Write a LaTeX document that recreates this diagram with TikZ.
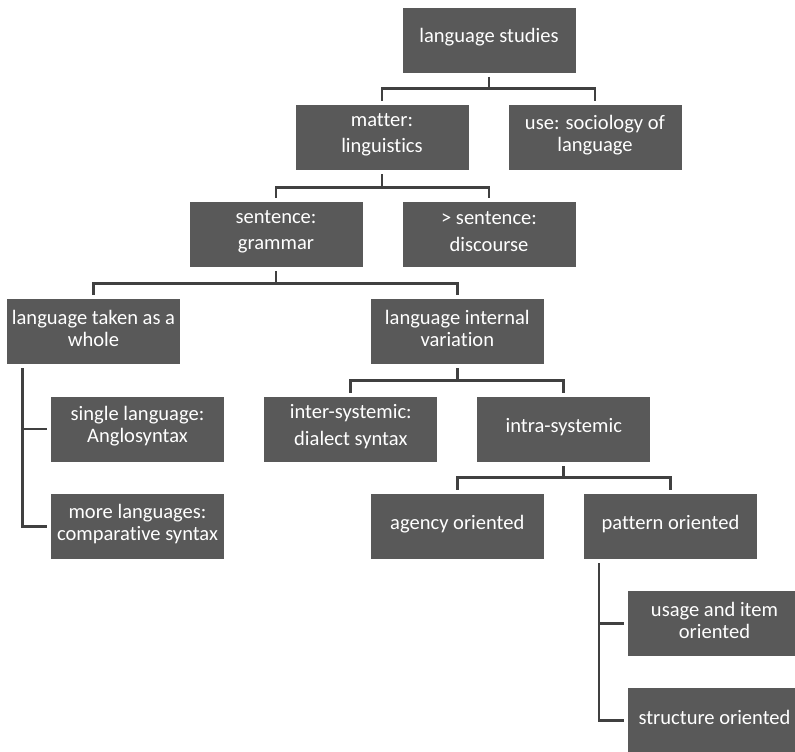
\documentclass[tikz,border=0pt]{standalone}
\usepackage{fontspec}
\setmainfont{Carlito}[Ligatures=NoCommon]
\definecolor{boxgray}{RGB}{89,89,89}
\definecolor{linegray}{RGB}{64,64,64}
\begin{document}
\begin{tikzpicture}[x=0.75pt,y=-0.75pt,
  box/.style={rectangle,fill=boxgray,minimum width=129.75pt,minimum height=48.75pt,inner sep=0pt,
    label={[txt]center:{#1}}},
  widebox/.style={box={#1},label={[txt,font=\fontsize{15.4}{20}\selectfont]center:{#1}}},
  txt/.style={text=white,align=center,inner sep=0pt,yshift=2pt,font=\fontsize{15.4}{16.5}\selectfont},
  conn/.style={draw=linegray,line width=2pt}]
\useasboundingbox (0,0) rectangle (795,751);
\node[box={language studies}] (ls) at (489,40) {};
\node[box={},label={[txt,font=\fontsize{15.4}{20}\selectfont]center:{matter:\\linguistics}}] (matter) at (382,137.5) {};
\node[box={use: sociology of\\language}] (use) at (595,137.5) {};
\node[box={},label={[txt,font=\fontsize{15.4}{20}\selectfont]center:{sentence:\\grammar}}] (sent) at (276,234.5) {};
\node[box={},label={[txt,font=\fontsize{15.4}{20}\selectfont]center:{> sentence:\\discourse}}] (disc) at (489,234.5) {};
\node[box={language taken as a\\whole}] (whole) at (93.5,331.5) {};
\node[box={language internal\\variation}] (intvar) at (457.3,331.5) {};
\node[box={single language:\\Anglosyntax}] (single) at (137.5,429) {};
\node[box={more languages:\\comparative syntax}] (more) at (137.5,526.5) {};
\node[box={},label={[txt,font=\fontsize{15.4}{20}\selectfont]center:{inter-systemic:\\dialect syntax}}] (inter) at (350.8,429.5) {};
\node[box={intra-systemic}] (intra) at (563.8,429.5) {};
\node[box={agency oriented}] (agency) at (457.3,526.5) {};
\node[box={pattern oriented}] (pattern) at (670.5,526.5) {};
\node[box={usage and item\\oriented}] (usage) at (714.5,623.5) {};
\node[box={structure oriented}] (struct) at (714.5,720.5) {};
% tree connectors
\draw[conn] ([yshift=-3pt]ls.south) -- ++(0,12) coordinate (j1);
\draw[conn] ([yshift=3pt]matter.north) |- (j1) -| ([yshift=3pt]use.north);
\draw[conn] ([yshift=-3pt]matter.south) -- ++(0,13) coordinate (j2);
\draw[conn] ([yshift=3pt]sent.north) |- (j2) -| ([yshift=3pt]disc.north);
\draw[conn] ([yshift=-3pt]sent.south) -- ++(0,12) coordinate (j3);
\draw[conn] ([yshift=3pt]whole.north) |- (j3) -| ([yshift=3pt]intvar.north);
\draw[conn] ([yshift=-3pt]intvar.south) -- ++(0,12) coordinate (j4);
\draw[conn] ([yshift=3pt]inter.north) |- (j4) -| ([yshift=3pt]intra.north);
\draw[conn] ([yshift=-3pt]intra.south) -- ++(0,11) coordinate (j5);
\draw[conn] ([yshift=3pt]agency.north) |- (j5) -| ([yshift=3pt]pattern.north);
% side connectors
\coordinate (w1) at ([xshift=12pt,yshift=-3pt]whole.south west);
\draw[conn] (w1) |- ([xshift=-2.5pt]more.west);
\draw[conn] (w1 |- single.west) -- ([xshift=-2.5pt]single.west);
\coordinate (p1) at ([xshift=11.5pt,yshift=-3pt]pattern.south west);
\draw[conn] (p1) |- ([xshift=-2.5pt]struct.west);
\draw[conn] (p1 |- usage.west) -- ([xshift=-2.5pt]usage.west);
\end{tikzpicture}
\end{document}
